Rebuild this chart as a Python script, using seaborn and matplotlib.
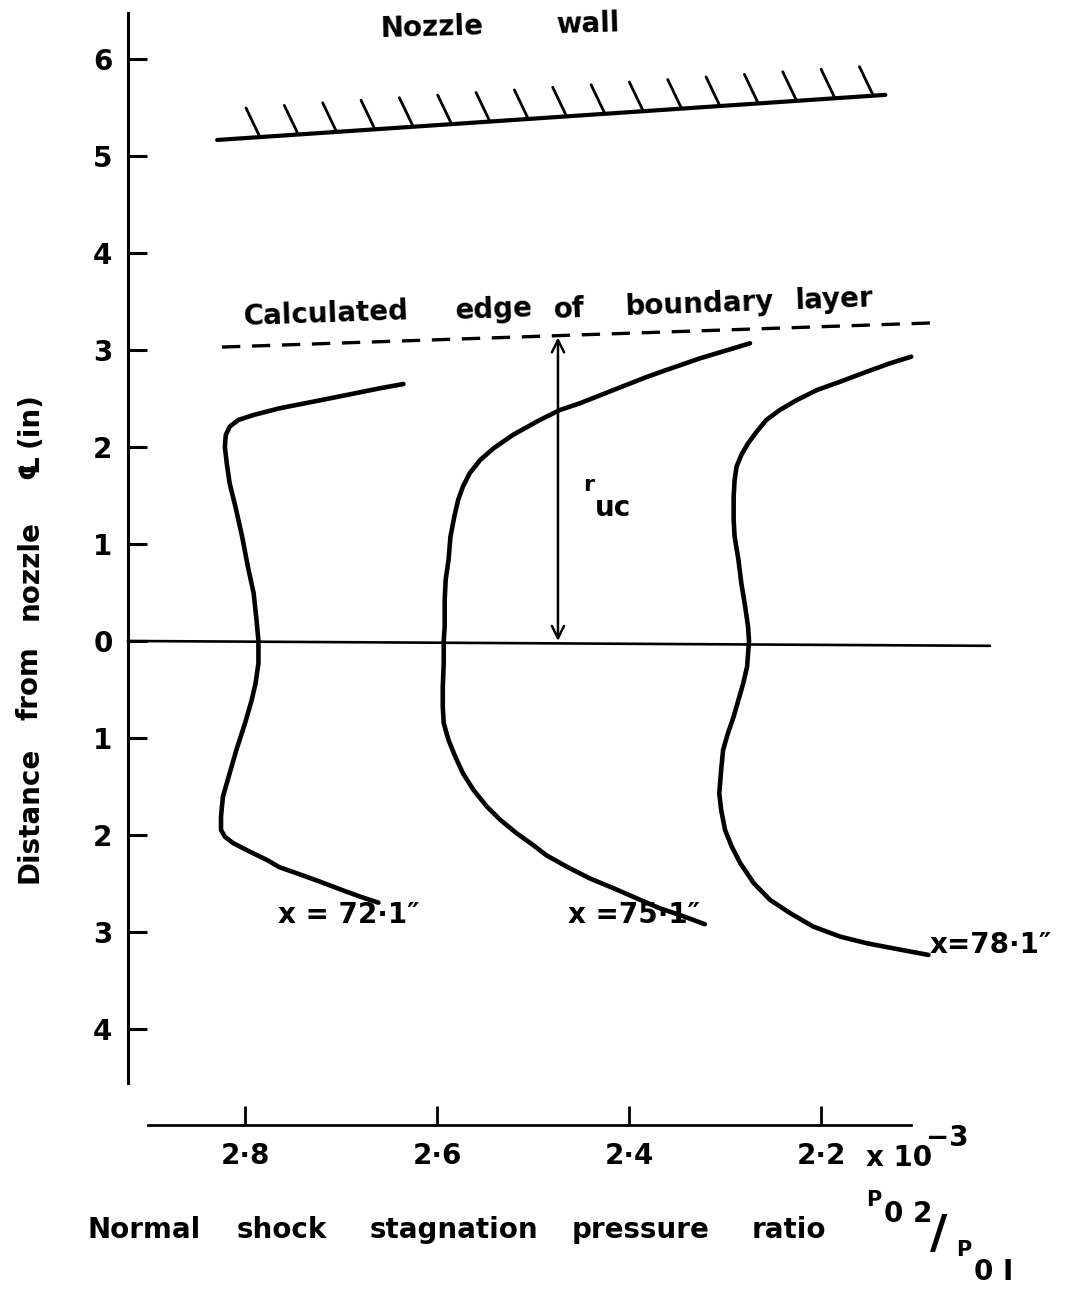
import numpy as np
import pandas as pd
import matplotlib
matplotlib.use("Agg")
import matplotlib.pyplot as plt
import seaborn as sns

# ---------------- data ----------------
# pressure ratio (x1e-3) and distance from nozzle centreline (in); below centreline negative
c72_p = [2.635, 2.659, 2.694, 2.729, 2.764, 2.791, 2.807, 2.816, 2.820, 2.821, 2.819, 2.816,
         2.810, 2.803, 2.797, 2.791, 2.788, 2.786, 2.786, 2.789, 2.793, 2.800, 2.809, 2.816,
         2.823, 2.825, 2.825, 2.821, 2.812, 2.795, 2.777, 2.764, 2.746, 2.722, 2.701, 2.680,
         2.661]
c72_r = [2.649, 2.606, 2.536, 2.467, 2.399, 2.330, 2.278, 2.209, 2.124, 2.003, 1.832, 1.626,
         1.385, 1.076, 0.766, 0.492, 0.216, 0.000, -0.230, -0.436, -0.608, -0.849, -1.124, -1.364,
         -1.605, -1.811, -1.948, -2.018, -2.086, -2.172, -2.258, -2.333, -2.395, -2.481, -2.560, -2.636,
         -2.698]

c75_p = [2.274, 2.291, 2.326, 2.361, 2.382, 2.416, 2.451, 2.472, 2.493, 2.521, 2.541, 2.555,
         2.566, 2.573, 2.578, 2.582, 2.586, 2.588, 2.591, 2.592, 2.592, 2.593, 2.593, 2.594,
         2.594, 2.593, 2.588, 2.581, 2.573, 2.562, 2.548, 2.534, 2.517, 2.500, 2.486, 2.465,
         2.441, 2.416, 2.392, 2.368, 2.347, 2.321]
c75_r = [3.069, 3.018, 2.914, 2.794, 2.720, 2.588, 2.451, 2.381, 2.278, 2.124, 1.987, 1.866,
         1.729, 1.591, 1.454, 1.281, 1.075, 0.835, 0.629, 0.423, 0.147, 0.000, -0.230, -0.471,
         -0.677, -0.849, -1.021, -1.192, -1.364, -1.536, -1.708, -1.845, -1.983, -2.103, -2.210, -2.326,
         -2.447, -2.550, -2.653, -2.756, -2.825, -2.920]

c78_p = [2.106, 2.128, 2.152, 2.180, 2.204, 2.225, 2.243, 2.257, 2.267, 2.276, 2.283, 2.288,
         2.290, 2.291, 2.291, 2.290, 2.286, 2.283, 2.279, 2.276, 2.275, 2.277, 2.281, 2.286,
         2.291, 2.297, 2.302, 2.304, 2.306, 2.304, 2.300, 2.293, 2.284, 2.270, 2.253, 2.232,
         2.208, 2.180, 2.152, 2.125, 2.088]
c78_r = [2.931, 2.863, 2.777, 2.673, 2.588, 2.485, 2.381, 2.278, 2.158, 2.038, 1.918, 1.797,
         1.660, 1.488, 1.247, 1.075, 0.835, 0.595, 0.354, 0.147, 0.000, -0.265, -0.436, -0.608,
         -0.780, -0.952, -1.124, -1.330, -1.570, -1.742, -1.948, -2.120, -2.292, -2.498, -2.670, -2.807,
         -2.945, -3.048, -3.117, -3.168, -3.237]

stations = ["x = 72·1″", "x = 75·1″", "x = 78·1″"]

wall_p = [2.829, 2.133]
wall_r = [5.165, 5.63]

bl_p = [2.824, 2.081]
bl_r = [3.03, 3.28]

centre_p = [2.922, 2.024]
centre_r = [0.0, -0.05]

ruc_p = 2.474
ruc_r = [3.13, 0.0]

y_ticks = [-4, -3, -2, -1, 0, 1, 2, 3, 4, 5, 6]
y_labels = ["4", "3", "2", "1", "0", "1", "2", "3", "4", "5", "6"]
x_ticks = [2.8, 2.6, 2.4, 2.2]
x_labels = ["2·8", "2·6", "2·4", "2·2"]

# ---------------- figure ----------------
W, H = 1088, 1290
sns.set_theme(style="white")
plt.rcParams["font.family"] = ["DejaVu Sans"]
plt.rcParams["font.weight"] = "bold"

fig = plt.figure(figsize=(W / 100, H / 100), dpi=100)
ax = fig.add_axes([0, 0, 1, 1])
ax.set_facecolor("white")

df = pd.concat([
    pd.DataFrame({"p": c72_p, "r": c72_r, "station": stations[0]}),
    pd.DataFrame({"p": c75_p, "r": c75_r, "station": stations[1]}),
    pd.DataFrame({"p": c78_p, "r": c78_r, "station": stations[2]}),
], ignore_index=True)

sns.lineplot(data=df, x="p", y="r", units="station", estimator=None, sort=False,
             color="black", lw=3.3, ax=ax, legend=False,
             solid_joinstyle="round", solid_capstyle="round")

# limits chosen so the figure maps like the reference
ax.set_xlim(3.0552, 1.9219)
ax.set_ylim(-6.691, 6.608)

# centreline
ax.plot(centre_p, centre_r, color="black", lw=1.9, solid_capstyle="round")

# nozzle wall with hatching
ax.plot(wall_p, wall_r, color="black", lw=3.0, solid_capstyle="round")
n_hatch = 17
fr = np.linspace(0.064, 0.982, n_hatch)
hx0 = wall_p[0] + fr * (wall_p[1] - wall_p[0])
hy0 = wall_r[0] + fr * (wall_r[1] - wall_r[0])
for a, b in zip(hx0, hy0):
    ax.plot([a, a + 0.0145], [b, b + 0.30], color="black", lw=2.0)

# calculated edge of boundary layer (dashed)
ax.plot(bl_p, bl_r, color="black", lw=2.4, linestyle=(0, (5.5, 3.5)))

# r_uc arrow
ax.annotate("", xy=(ruc_p, ruc_r[1]), xytext=(ruc_p, ruc_r[0]),
            arrowprops=dict(arrowstyle="<->", lw=1.8, color="black",
                            mutation_scale=22, shrinkA=0, shrinkB=0))

# ---------------- axes ----------------
for s in ["top", "right"]:
    ax.spines[s].set_visible(False)
ax.spines["left"].set_position(("data", 2.922))
ax.spines["left"].set_bounds(-4.56, 6.47)
ax.spines["left"].set_linewidth(2.2)
ax.spines["left"].set_color("black")
ax.spines["bottom"].set_position(("data", -4.99))
ax.spines["bottom"].set_bounds(2.901, 2.106)
ax.spines["bottom"].set_linewidth(2.0)
ax.spines["bottom"].set_color("black")

ax.set_yticks(y_ticks)
ax.set_yticklabels(y_labels)
ax.set_xticks(x_ticks)
ax.set_xticklabels(x_labels)
ax.tick_params(axis="y", direction="in", length=14, width=2.2, pad=11,
               labelsize=20, colors="black", left=True)
ax.tick_params(axis="x", direction="in", length=14, width=2.0, pad=12,
               labelsize=20, colors="black", bottom=True)
for t in ax.get_xticklabels() + ax.get_yticklabels():
    t.set_fontweight("bold")
ax.set_xlabel("")
ax.set_ylabel("")
ax.grid(False)


def P(x, y):
    return (x / W, 1 - y / H)


def txt(x, y, s, size=20, **kw):
    kw.setdefault("ha", "left")
    kw.setdefault("va", "center")
    ax.text(*P(x, y), s, transform=ax.transAxes, fontsize=size,
            fontweight="bold", color="black", **kw)


# top annotations
txt(380, 28, "Nozzle", rotation=1.5)
txt(555, 24, "wall", rotation=1.5)
for x, y, w in [(243, 314, "Calculated"), (455, 310, "edge"), (553, 309, "of"),
                (625, 304, "boundary"), (795, 300, "layer")]:
    txt(x, y, w, rotation=2)

# r_uc label
txt(583, 485, "r", size=16)
txt(595, 508, "uc", size=20)

# curve labels
txt(278, 915, "x = 72·1″")
txt(568, 915, "x =75·1″")
txt(930, 945, "x=78·1″")

# x multiplier
txt(866, 1158, "x 10")
txt(926, 1138, "−3", size=20)

# x label
for x, w in [(88, "Normal"), (237, "shock"), (370, "stagnation"), (572, "pressure"), (752, "ratio")]:
    txt(x, 1230, w, size=20)
txt(866, 1200, "P", size=15)
txt(884, 1214, "0 2", size=20)
txt(930, 1236, "/", size=34)
txt(956, 1250, "P", size=15)
txt(974, 1272, "0 I", size=20)

# y label (rotated words)
for y, w in [(815, "Distance"), (683, "from"), (570, "nozzle"), (467, "℄"), (420, "(in)")]:
    txt(30, y, w, size=20, rotation=90, ha="center")

fig.savefig("out.png", dpi=100, facecolor="white")
